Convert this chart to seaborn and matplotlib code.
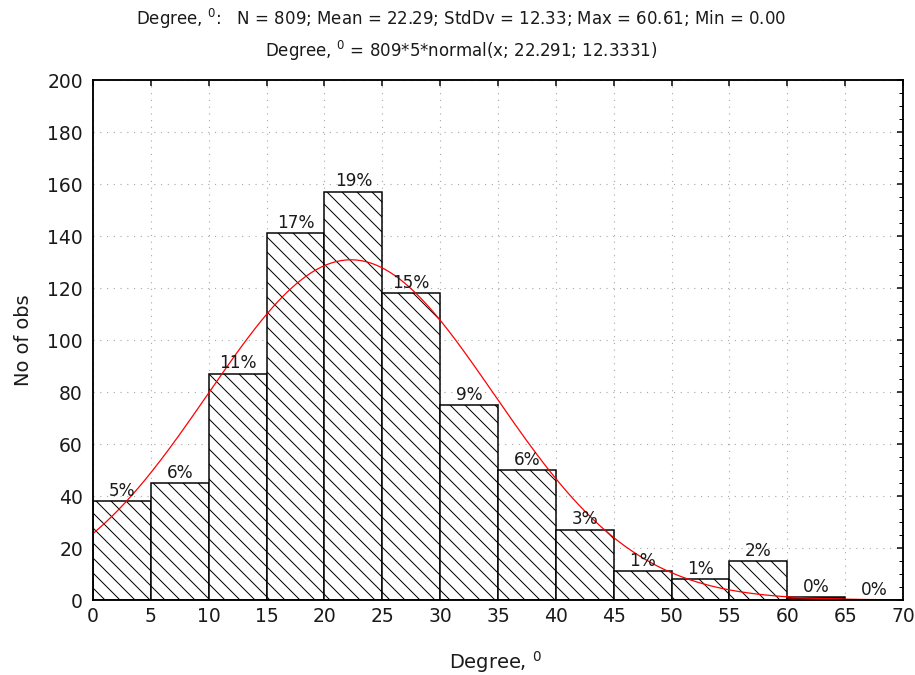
import numpy as np
import pandas as pd
import matplotlib
matplotlib.use("Agg")
import matplotlib.pyplot as plt
import seaborn as sns
from matplotlib.ticker import MultipleLocator

# ---- data ----
bin_edges = [0, 5, 10, 15, 20, 25, 30, 35, 40, 45, 50, 55, 60, 65, 70]
counts = [38, 45, 87, 141, 157, 118, 75, 50, 27, 11, 8, 15, 1, 0]
pct_labels = ["5%", "6%", "11%", "17%", "19%", "15%", "9%", "6%", "3%",
              "1%", "1%", "2%", "0%", "0%"]
N = 809
mean = 22.291
sd = 12.3331
bin_width = 5
title1 = "Degree, $^{0}$:   N = 809; Mean = 22.29; StdDv = 12.33; Max = 60.61; Min = 0.00"
title2 = "Degree, $^{0}$ = 809*5*normal(x; 22.291; 12.3331)"
xlabel = "Degree, $^{0}$"
ylabel = "No of obs"

centers = [(a + b) / 2 for a, b in zip(bin_edges[:-1], bin_edges[1:])]
df = pd.DataFrame({"center": centers, "count": counts})

sns.set_theme(style="white")
plt.rcParams["font.family"] = ["DejaVu Sans"]
plt.rcParams["mathtext.default"] = "regular"
plt.rcParams["hatch.linewidth"] = 0.8
plt.rcParams["hatch.color"] = "black"

fig = plt.figure(figsize=(915 / 90, 675 / 90), dpi=90)
ax = fig.add_axes([93 / 915, 75 / 675, 810 / 915, 520 / 675])

ax.grid(True, which="major", linestyle=(0, (1, 5)), color="#a8a8a8", linewidth=0.9)
ax.set_axisbelow(True)

sns.histplot(data=df, x="center", weights="count", bins=bin_edges, ax=ax,
             color="white", edgecolor="black", linewidth=1.2, alpha=1)
for i, p in enumerate(ax.patches):
    p.set_edgecolor("black")
    p.set_hatch("\\\\")
    p.set_facecolor("white")
    if i == 12:
        p.set_facecolor("#8b0000")
        p.set_hatch(None)

xs = np.linspace(0, 70, 500)
ys = N * bin_width * np.exp(-0.5 * ((xs - mean) / sd) ** 2) / (sd * np.sqrt(2 * np.pi))
sns.lineplot(x=xs, y=ys, color="red", linewidth=1.0, ax=ax)

for c, h, lab in zip(centers, counts, pct_labels):
    ax.text(c, h + 0.5, lab, ha="center", va="bottom", fontsize=13.5, color="#1a1a1a")

ax.set_xlim(0, 70)
ax.set_ylim(0, 200)
ax.xaxis.set_major_locator(MultipleLocator(5))
ax.xaxis.set_minor_locator(MultipleLocator(1))
ax.yaxis.set_major_locator(MultipleLocator(20))
ax.yaxis.set_minor_locator(MultipleLocator(5))
ax.tick_params(which="both", direction="in", top=True, right=True, colors="black")
ax.tick_params(which="major", length=5, width=1.2, labelsize=15)
ax.tick_params(axis="x", which="major", pad=6)
ax.tick_params(axis="y", which="major", pad=8)
ax.tick_params(which="minor", length=3, width=0.8, top=False)
for lab in ax.get_xticklabels() + ax.get_yticklabels():
    lab.set_color("#1a1a1a")
for s in ax.spines.values():
    s.set_color("black")
    s.set_linewidth(1.5)

ax.set_xlabel(xlabel, fontsize=15.5, color="#1a1a1a")
ax.set_ylabel(ylabel, fontsize=15.5, color="#1a1a1a")
ax.xaxis.set_label_coords((496 - 93) / 810, -(649 - 600) / 520)
ax.yaxis.set_label_coords(-(93 - 33) / 810, 0.5)

fig.text(461 / 915, 1 - 19 / 675, title1, ha="center", va="center", fontsize=13.3, color="#1a1a1a")
fig.text(461 / 915, 1 - 51 / 675, title2, ha="center", va="center", fontsize=13.3, color="#1a1a1a")

fig.savefig("out.png", dpi=90)
